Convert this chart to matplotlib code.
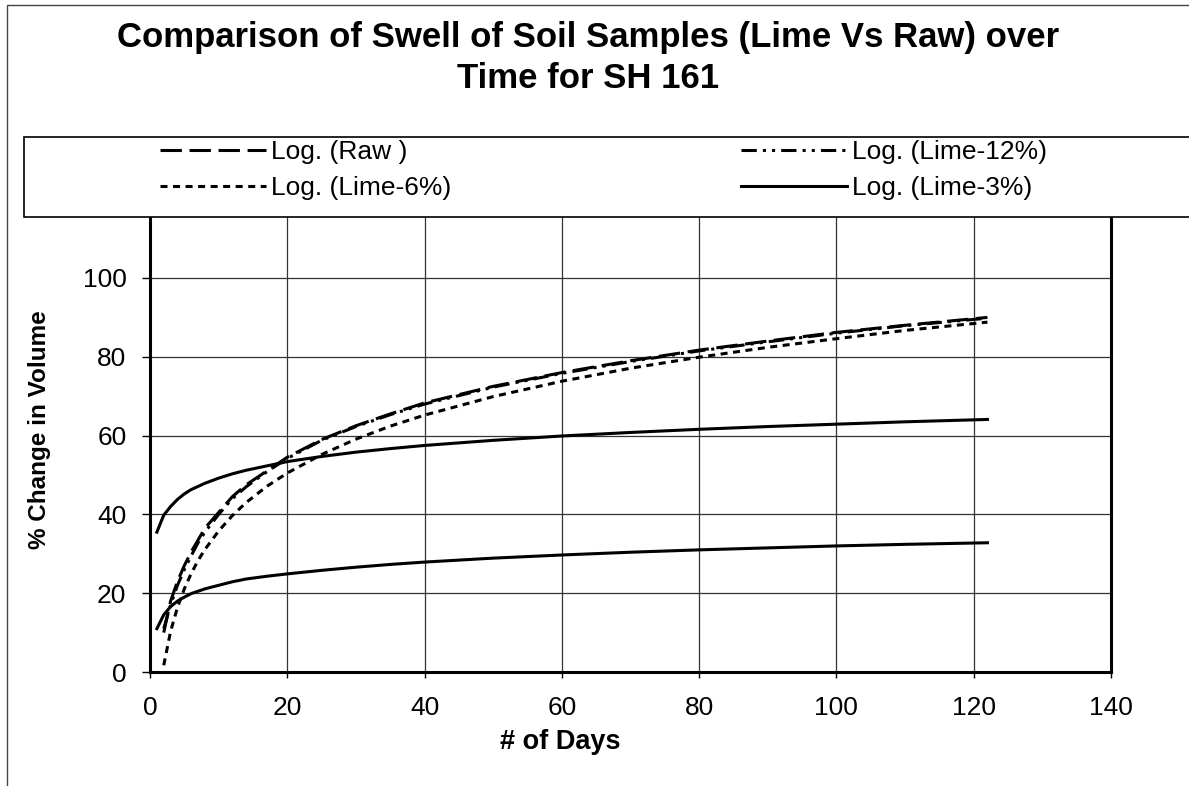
import numpy as np
import matplotlib
matplotlib.use("Agg")
import matplotlib.pyplot as plt
from matplotlib.patches import Rectangle

plt.rcParams['font.family'] = ['Liberation Sans', 'DejaVu Sans']

# swell readings (% change in volume) against day, log trendlines
days = [1, 2, 3, 4, 5, 6, 7, 8, 10, 12, 14, 17, 20, 25, 30, 35, 40,
        50, 60, 70, 80, 90, 100, 110, 122]
nan = np.nan
raw = [nan, 10.0, 18.0, 23.0, 27.0, 30.5, 33.5, 36.5, 40.5, 44.5, 47.5, 51.0,
       54.5, 59.0, 62.5, 65.5, 68.3, 72.5, 76.0, 79.0, 81.7, 84.0, 86.2, 88.0, 90.0]
lime12 = [nan, 11.0, 17.0, 22.0, 26.0, 29.5, 32.8, 35.5, 40.0, 44.0, 47.0, 50.8,
          54.2, 58.8, 62.3, 65.3, 68.0, 72.3, 75.8, 78.8, 81.5, 83.8, 86.0, 87.9, 89.8]
lime6 = [nan, 1.7, 10.3, 16.4, 21.1, 25.0, 28.3, 31.1, 35.8, 39.7, 43.0, 47.1,
         50.5, 55.2, 59.1, 62.4, 65.2, 69.9, 73.8, 77.1, 79.9, 82.4, 84.6, 86.7, 88.8]
lime3 = [35.5, 39.8, 42.0, 43.8, 45.2, 46.3, 47.1, 47.9, 49.2, 50.3, 51.2, 52.3,
         53.4, 54.7, 55.8, 56.7, 57.5, 58.8, 59.9, 60.8, 61.6, 62.3, 62.9, 63.5, 64.1]
lower = [11.0, 14.5, 16.6, 18.0, 19.0, 19.9, 20.5, 21.1, 22.0, 22.9, 23.6, 24.3,
         24.9, 25.8, 26.6, 27.3, 27.9, 28.9, 29.7, 30.4, 31.0, 31.5, 32.0, 32.4, 32.8]

xticks = [0, 20, 40, 60, 80, 100, 120, 140]
yticks = [0, 20, 40, 60, 80, 100]

W, H = 1189, 786
fig = plt.figure(figsize=(W / 100, H / 100), dpi=100)
ax = fig.add_axes([150 / W, (H - 672) / H, 961 / W, 472.8 / H])

lw = 2.2
l_raw, = ax.plot(days, raw, color='black', lw=lw, dashes=(7, 2.5), label='Log. (Raw )')
l_12, = ax.plot(days, lime12, color='black', lw=lw, dashes=(5, 2, 1, 2, 1, 2),
                label='Log. (Lime-12%)')
l_6, = ax.plot(days, lime6, color='black', lw=lw, dashes=(2.3, 1.8), label='Log. (Lime-6%)')
l_3, = ax.plot(days, lime3, color='black', lw=lw, label='Log. (Lime-3%)')
ax.plot(days, lower, color='black', lw=lw)

ax.set_xlim(0, 140)
ax.set_ylim(0, 120)
ax.set_xticks(xticks)
ax.set_yticks(yticks)
ax.set_axisbelow(True)
ax.grid(True, color='#333333', lw=0.9)

for side in ['left', 'right', 'bottom']:
    ax.spines[side].set_linewidth(2.2)
ax.spines['top'].set_visible(False)
ax.tick_params(axis='y', direction='out', length=6, width=1, pad=11, labelsize=19)
ax.tick_params(axis='x', direction='out', length=4, width=1, pad=13, labelsize=19)

ax.set_xlabel('# of Days', fontsize=19.5, fontweight='bold', va='center')
ax.xaxis.set_label_coords((560 - 150) / 961, (672 - 742) / 472.8)
ax.set_ylabel('% Change in Volume', fontsize=17.5, fontweight='bold', va='center')
ax.yaxis.set_label_coords((40 - 150) / 961, (672 - 430) / 472.8)

# outer chart border and the legend box sitting over the top of the plot
fig.add_artist(Rectangle((7 / W, -0.5), 2.0, (H - 5) / H + 0.5, transform=fig.transFigure,
                         fill=False, edgecolor='#444444', lw=1.0, zorder=1))
fig.add_artist(Rectangle((24 / W, (H - 217) / H), 2.0, 80 / H, transform=fig.transFigure,
                         facecolor='white', edgecolor='black', lw=1.2, zorder=3))

fig.legend(handles=[l_raw, l_6, l_12, l_3], ncol=2, loc='upper left',
           bbox_to_anchor=(160 / W, (H - 140) / H), frameon=False, fontsize=19,
           handlelength=4.0, handletextpad=0.2, columnspacing=11.0,
           labelspacing=0.45, borderpad=0, borderaxespad=0).set_zorder(5)

fig.text(588 / W, 1 - 58 / H,
         'Comparison of Swell of Soil Samples (Lime Vs Raw) over\nTime for SH 161',
         ha='center', va='center', fontsize=25, fontweight='bold', linespacing=1.32)

fig.savefig('out.png', dpi=100)
